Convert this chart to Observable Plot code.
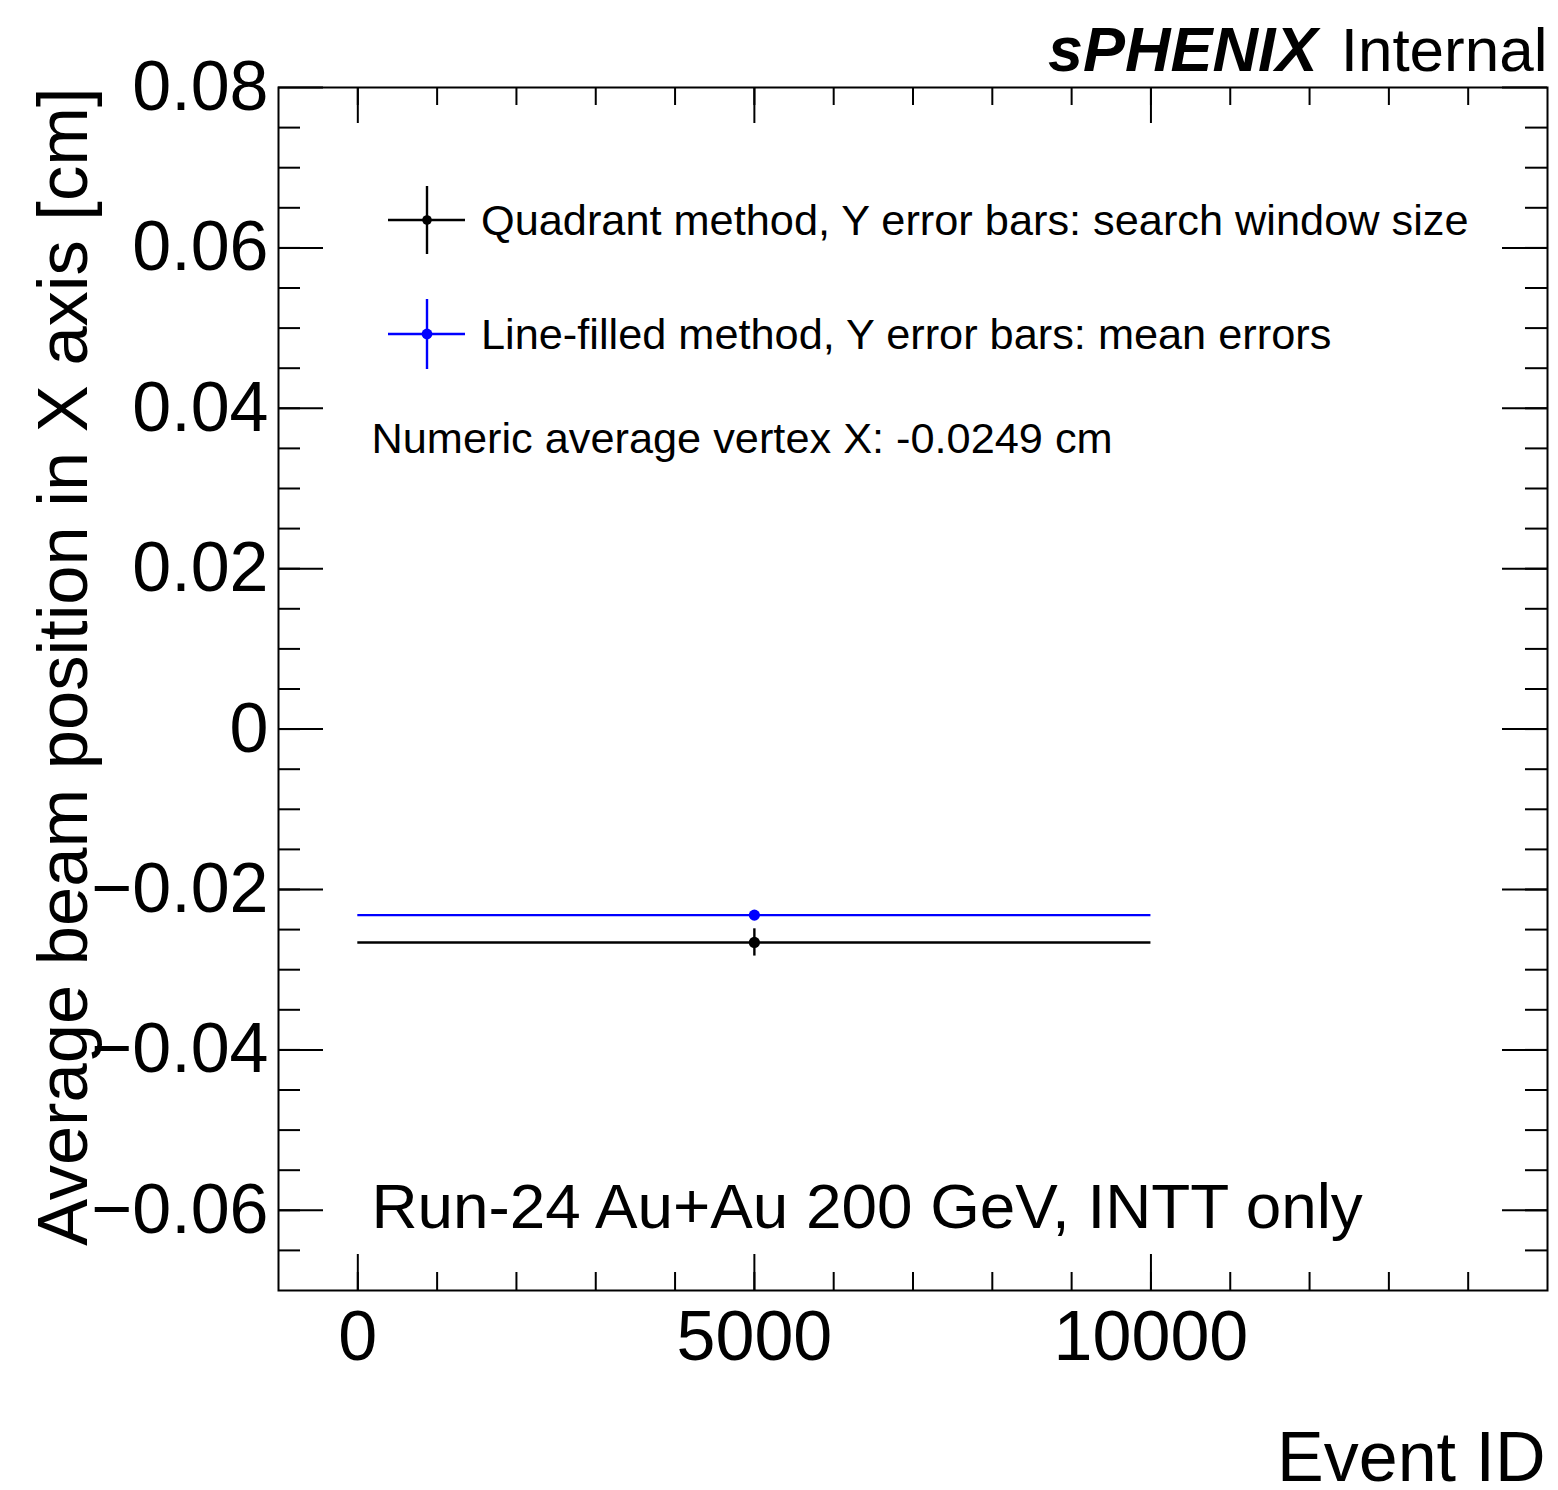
<!DOCTYPE html>
<html>
<head>
<meta charset="utf-8">
<script src="https://cdn.jsdelivr.net/npm/d3@7"></script>
<script src="https://cdn.jsdelivr.net/npm/@observablehq/plot@0.6"></script>
<style>
  html, body { margin: 0; padding: 0; background: #fff; }
  #chart svg { display: block; }
</style>
</head>
<body>
<div id="chart"></div>
<script>
// ---- data ----
const methods = [
  "Quadrant method, Y error bars: search window size",
  "Line-filled method, Y error bars: mean errors"
];
const methodColors = ["black", "blue"];
const eventCenter = [5000, 5000];
const eventHalfRange = [5000, 5000];
const beamX = [-0.0266, -0.0232];
const beamXErr = [0.0017, 0.0];

const xMajorTicks = [0, 5000, 10000];
const yMajorTicks = [-0.06, -0.04, -0.02, 0, 0.02, 0.04, 0.06, 0.08];
const xMinorTicks = d3.range(0, 15000, 1000);
const yMinorTicks = d3.range(-13, 16).map(k => k * 0.005);

const xDomain = [-1000, 15000];
const yDomain = [-0.07, 0.08];

const experimentLabel = ["sPHENIX", "Internal"];
const numericNote = "Numeric average vertex X: -0.0249 cm";
const runNote = "Run-24 Au+Au 200 GeV, INTT only";
const xLabel = "Event ID";
const yLabel = "Average beam position in X axis [cm]";

const rows = methods.map((m, i) => ({
  method: m, color: methodColors[i],
  x: eventCenter[i], x1: eventCenter[i] - eventHalfRange[i], x2: eventCenter[i] + eventHalfRange[i],
  y: beamX[i], y1: beamX[i] - beamXErr[i], y2: beamX[i] + beamXErr[i]
}));

// ---- layout ----
const W = 1558, H = 1490;
const mL = 278, mR = 11, mT = 87, mB = 200;
const fw = W - mL - mR, fh = H - mT - mB;
const FONT = "'Liberation Sans', Arial, Helvetica, sans-serif";

function legendMark(index, scales, values, dims) {
  const g = d3.create("svg:g").attr("font-family", FONT).attr("text-anchor", "start");
  const x0 = dims.marginLeft;
  const y0 = dims.marginTop;
  const items = [{yc: 133, half: 34}, {yc: 247, half: 35}];
  methods.forEach((m, i) => {
    const it = items[i];
    const cx = x0 + 149, cy = y0 + it.yc;
    g.append("line").attr("x1", x0 + 110).attr("x2", x0 + 187).attr("y1", cy).attr("y2", cy)
      .attr("stroke", methodColors[i]).attr("stroke-width", 2.4);
    g.append("line").attr("x1", cx).attr("x2", cx).attr("y1", cy - it.half).attr("y2", cy + it.half)
      .attr("stroke", methodColors[i]).attr("stroke-width", 2.4);
    g.append("circle").attr("cx", cx).attr("cy", cy).attr("r", i === 0 ? 4.8 : 5.4).attr("fill", methodColors[i]);
    g.append("text").attr("x", x0 + 203).attr("y", cy + 15).attr("font-size", 43.3)
      .attr("text-anchor", "start").attr("fill", "black").text(m);
  });
  return g.node();
}

const fmtY = d => d === 0 ? "0" : d3.format(".2f")(d);

const chart = Plot.plot({
  width: W, height: H,
  marginLeft: mL, marginRight: mR, marginTop: mT, marginBottom: mB,
  style: {fontFamily: FONT, background: "white", color: "black"},
  x: {domain: xDomain},
  y: {domain: yDomain},
  marks: [
    // tick labels
    Plot.axisX(xMajorTicks, {tickSize: 0, tickPadding: 20, fontSize: 70, tickFormat: d => String(d), label: null}),
    Plot.axisY(yMajorTicks, {tickSize: 0, tickPadding: 10, fontSize: 70, tickFormat: fmtY, label: null}),
    // inward ticks: left / right
    Plot.ruleY(yMajorTicks, {insetRight: fw - 45, stroke: "black", strokeWidth: 2}),
    Plot.ruleY(yMajorTicks, {insetLeft: fw - 45, stroke: "black", strokeWidth: 2}),
    Plot.ruleY(yMinorTicks, {insetRight: fw - 22, stroke: "black", strokeWidth: 2}),
    Plot.ruleY(yMinorTicks, {insetLeft: fw - 22, stroke: "black", strokeWidth: 2}),
    // inward ticks: bottom / top
    Plot.ruleX(xMajorTicks, {insetTop: fh - 36, stroke: "black", strokeWidth: 2}),
    Plot.ruleX(xMajorTicks, {insetBottom: fh - 36, stroke: "black", strokeWidth: 2}),
    Plot.ruleX(xMinorTicks, {insetTop: fh - 18, stroke: "black", strokeWidth: 2}),
    Plot.ruleX(xMinorTicks, {insetBottom: fh - 18, stroke: "black", strokeWidth: 2}),
    Plot.frame({stroke: "black", strokeWidth: 2}),
    // data: horizontal bars (x range), vertical error bars, points
    Plot.ruleY(rows, {x1: "x1", x2: "x2", y: "y", stroke: "color", strokeWidth: 2.4}),
    Plot.ruleX(rows, {x: "x", y1: "y1", y2: "y2", stroke: "color", strokeWidth: 2.4}),
    Plot.dot(rows, {x: "x", y: "y", fill: "color", r: 5.6, stroke: null}),
    // legend
    legendMark,
    // annotations
    Plot.text([numericNote], {text: d => d, frameAnchor: "top-left", textAnchor: "start", lineAnchor: "bottom", dx: 93, dy: 365, fontSize: 43.3, fill: "black"}),
    Plot.text([runNote], {text: d => d, frameAnchor: "top-left", textAnchor: "start", lineAnchor: "bottom", dx: 93, dy: 1140, fontSize: 63.8, fill: "black"}),
    Plot.text([experimentLabel[1]], {text: d => d, frameAnchor: "top-right", textAnchor: "end", lineAnchor: "bottom", dx: 0, dy: -17, fontSize: 62, fill: "black"}),
    Plot.text([experimentLabel[0]], {text: d => d, frameAnchor: "top-right", textAnchor: "end", lineAnchor: "bottom", dx: -230, dy: -17, fontSize: 63, fill: "black", fontWeight: "bold", fontStyle: "italic"}),
    Plot.text([xLabel], {text: d => d, frameAnchor: "bottom-right", textAnchor: "end", lineAnchor: "bottom", dx: -2, dy: 190, fontSize: 70, fill: "black"}),
    Plot.text([yLabel], {text: d => d, frameAnchor: "top-left", textAnchor: "end", lineAnchor: "bottom", rotate: -90, dx: -192, dy: 0, fontSize: 70.5, fill: "black"})
  ]
});
document.getElementById("chart").appendChild(chart);
</script>
</body>
</html>
